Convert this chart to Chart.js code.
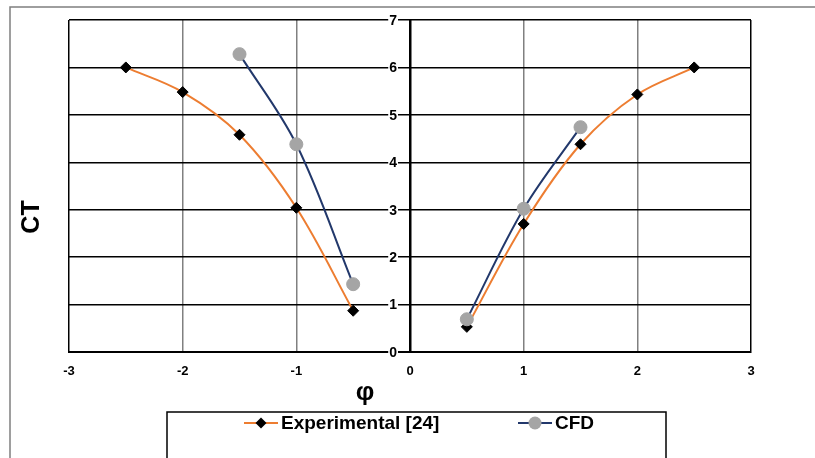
<!DOCTYPE html>
<html>
<head>
<meta charset="utf-8">
<script src="https://cdn.jsdelivr.net/npm/chart.js@4/dist/chart.umd.min.js"></script>
<style>
  html, body { margin: 0; padding: 0; background: #fff; }
  canvas { display: block; }
</style>
</head>
<body>
<canvas id="ctChart" width="815" height="458"></canvas>
<script>
//-----------------Data (null splits the negative and positive branches)
const phiExp = [-2.5, -2, -1.5, -1, -0.5, 0, 0.5, 1, 1.5, 2, 2.5]
const ctExp  = [6.0, 5.48, 4.58, 3.04, 0.87, null, 0.53, 2.70, 4.38, 5.43, 6.0]
const phiCfd = [-1.5, -1, -0.5, 0, 0.5, 1, 1.5]
const ctCfd  = [6.28, 4.38, 1.43, null, 0.69, 3.02, 4.74]
const xTicks = [-3, -2, -1, 0, 1, 2, 3]
const yTicks = [0, 1, 2, 3, 4, 5, 6, 7]

const expLabel = 'Experimental [24]'
const cfdLabel = 'CFD'
const orange = '#ED7D31'
const navy = '#22386B'
const grey = '#A5A5A5'
const fontFamily = '"Liberation Sans", Arial, sans-serif'

function toPoints(xs, ys){
  return xs.map((x, i) => ({x: x, y: ys[i]}))
}

//-----------------Frame, y labels at the centre axis, titles and legend
const extras = {
  id: 'extras',
  beforeDraw(chart){
    const c = chart.ctx
    c.save()
    c.fillStyle = '#fff'
    c.fillRect(0, 0, chart.width, chart.height)
    c.restore()
  },
  afterDraw(chart){
    const c = chart.ctx
    const area = chart.chartArea
    const ys = chart.scales.y
    const xs = chart.scales.x
    c.save()
    // outer frame
    c.strokeStyle = '#7f7f7f'
    c.lineWidth = 1.5
    c.beginPath()
    c.moveTo(chart.width, 7)
    c.lineTo(10, 7)
    c.lineTo(10, chart.height)
    c.stroke()

    // y tick labels, left of the axis with a white backing over the grid
    const axisX = xs.getPixelForValue(0)
    c.font = 'bold 14px ' + fontFamily
    c.textAlign = 'right'
    c.textBaseline = 'middle'
    yTicks.forEach(v => {
      const py = ys.getPixelForValue(v)
      const txt = String(v)
      const w = c.measureText(txt).width
      const rx = axisX - 13
      c.fillStyle = '#fff'
      c.fillRect(rx - w - 1, py - 3, w + 2, 6)
      c.fillStyle = '#000'
      c.fillText(txt, rx, py + 1)
    })

    // titles
    c.textAlign = 'center'
    c.font = 'bold 26px ' + fontFamily
    c.fillText('φ', area.left + 296, area.bottom + 41)
    c.save()
    c.translate(area.left - 37, area.top + 197)
    c.rotate(-Math.PI / 2)
    c.font = 'bold 25px ' + fontFamily
    c.fillText('CT', 0, 0)
    c.restore()

    // legend box
    c.strokeStyle = '#000'
    c.lineWidth = 1.5
    c.strokeRect(167, area.bottom + 60, 499, 80)
    const ly = area.bottom + 71
    c.font = 'bold 19px ' + fontFamily
    c.textAlign = 'left'
    const items = [
      {x: 244, line: orange, label: expLabel, ds: 0},
      {x: 518, line: navy, label: cfdLabel, ds: 1}
    ]
    items.forEach(it => {
      const ds = chart.data.datasets[it.ds]
      c.strokeStyle = it.line
      c.lineWidth = 2
      c.beginPath()
      c.moveTo(it.x, ly)
      c.lineTo(it.x + 34, ly)
      c.stroke()
      const mx = it.x + 17
      c.fillStyle = ds.pointBackgroundColor
      c.beginPath()
      if (ds.pointStyle === 'rectRot'){
        const r = ds.pointRadius
        c.moveTo(mx, ly - r); c.lineTo(mx + r, ly); c.lineTo(mx, ly + r); c.lineTo(mx - r, ly)
        c.closePath()
      } else {
        c.arc(mx, ly, ds.pointRadius, 0, Math.PI * 2)
      }
      c.fill()
      c.fillStyle = '#000'
      c.fillText(it.label, it.x + 37, ly + 1)
    })
    c.restore()
  }
}

new Chart(document.getElementById('ctChart'), {
  type: 'scatter',
  data: {
    datasets: [{
      label: expLabel,
      data: toPoints(phiExp, ctExp),
      showLine: true,
      spanGaps: false,
      borderColor: orange,
      borderWidth: 2,
      tension: 0.35,
      pointStyle: 'rectRot',
      pointRadius: 5.5,
      pointBackgroundColor: '#000',
      pointBorderColor: '#000',
      pointBorderWidth: 1,
      order: 1
    }, {
      label: cfdLabel,
      data: toPoints(phiCfd, ctCfd),
      showLine: true,
      spanGaps: false,
      borderColor: navy,
      borderWidth: 2,
      tension: 0.35,
      pointStyle: 'circle',
      pointRadius: 6.5,
      pointBackgroundColor: grey,
      pointBorderColor: grey,
      pointBorderWidth: 1,
      order: 0
    }]
  },
  options: {
    responsive: false,
    animation: false,
    layout: { padding: {top: 20, right: 64, left: 0, bottom: 0} },
    plugins: {
      legend: { display: false },
      tooltip: { enabled: false }
    },
    scales: {
      x: {
        type: 'linear',
        min: -3,
        max: 3,
        afterBuildTicks: s => { s.ticks = xTicks.map(v => ({value: v})) },
        afterFit: s => { s.height = 106 },
        ticks: { color: '#000', font: {family: fontFamily, weight: 'bold', size: 13}, padding: 12 },
        grid: {
          drawTicks: false,
          lineWidth: 1.5,
          color: ctx => (ctx.tick && Math.abs(ctx.tick.value) === 3) ? '#000' : '#808080'
        },
        border: { color: '#000', width: 2 }
      },
      y: {
        type: 'linear',
        position: {x: 0},
        min: 0,
        max: 7,
        afterBuildTicks: s => { s.ticks = yTicks.map(v => ({value: v})) },
        ticks: { display: false },
        grid: { color: '#000', lineWidth: 1.5, drawTicks: false },
        border: { color: '#000', width: 2.5 }
      },
      yl: {
        type: 'linear',
        position: 'left',
        min: 0,
        max: 7,
        afterFit: s => { s.width = 69 },
        ticks: { display: false },
        grid: { display: false },
        border: { display: false }
      }
    }
  },
  plugins: [extras]
})
</script>
</body>
</html>
